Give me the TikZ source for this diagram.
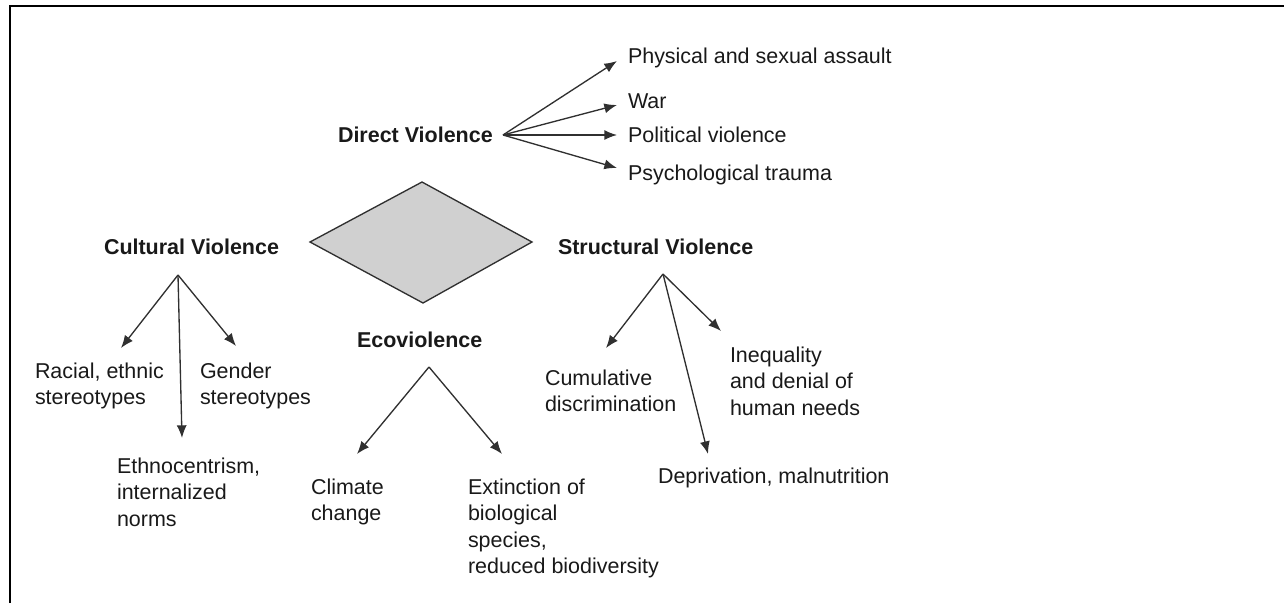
\documentclass[tikz,border=0pt]{standalone}
\usepackage{fontspec}
\setmainfont{Liberation Sans}
\usetikzlibrary{arrows.meta}
\definecolor{rhombgray}{HTML}{D0D0D0}
\definecolor{inkgray}{HTML}{303030}

\begin{document}
\begin{tikzpicture}[x=0.75pt, y=-0.75pt,
    every node/.style={inner sep=0pt, outer sep=0pt, text=black!90, font=\fontsize{16.1}{19.9}\selectfont},
    head/.style={anchor=base west, font=\fontsize{16.1}{19.9}\selectfont\bfseries},
    leaf/.style={anchor=base west},
    block/.style={anchor=north west, align=left},
    arr/.style={-{Latex[length=9.5pt, width=7.5pt]}, draw=inkgray, line width=1pt}]
  \useasboundingbox (0, 0) rectangle (1284, 603);
  \draw[line width=1.6pt] (10, 603) -- (10, 6) -- (1284, 6);

  \filldraw[fill=rhombgray, draw=inkgray, line width=1pt] (310, 242) -- (422, 182) -- (532, 242) -- (423, 303) -- cycle;

  \node[head] (direct) at (338, 142) {Direct Violence};
  \node[leaf] (phys) at (628, 63) {Physical and sexual assault};
  \node[leaf] (war) at (628, 108) {War};
  \node[leaf] (polit) at (628, 142) {Political violence};
  \node[leaf] (psych) at (628, 180) {Psychological trauma};

  \node[head] (cultural) at (104, 254) {Cultural Violence};
  \node[block] (racial) at (35, 362.5) {Racial, ethnic\\stereotypes};
  \node[block] (gender) at (200, 362.5) {Gender\\stereotypes};
  \node[block] (ethno) at (117, 457.5) {Ethnocentrism,\\internalized\\norms};

  \node[head] (eco) at (357, 347) {Ecoviolence};
  \node[block] (climate) at (311, 478.5) {Climate\\change};
  \node[block] (extinct) at (468, 478.5) {Extinction of\\biological\\species,\\reduced biodiversity};

  \node[head] (structural) at (558, 254) {Structural Violence};
  \node[block] (cumul) at (545, 369.5) {Cumulative\\discrimination};
  \node[block] (inequal) at (730, 346.5) {Inequality\\and denial of\\human needs};
  \node[leaf] (depriv) at (658, 483) {Deprivation, malnutrition};

  \coordinate (dhub) at (503, 135);
  \coordinate (dphys) at (617, 61);
  \coordinate (dwar) at (617, 105);
  \coordinate (dpolit) at (617, 135);
  \coordinate (dpsych) at (617, 168);
  \draw[arr] (dhub) -- (dphys);
  \draw[arr] (dhub) -- (dwar);
  \draw[arr] (dhub) -- (dpolit);
  \draw[arr] (dhub) -- (dpsych);

  \coordinate (chub) at (178, 275);
  \coordinate (cracial) at (121, 348);
  \coordinate (cgender) at (236, 346);
  \coordinate (cethno) at (182, 438);
  \draw[arr] (chub) -- (cracial);
  \draw[arr] (chub) -- (cgender);
  \draw[arr] (chub) -- (cethno);

  \coordinate (ehub) at (429, 367);
  \coordinate (eclimate) at (357, 454);
  \coordinate (eextinct) at (502, 454);
  \draw[arr] (ehub) -- (eclimate);
  \draw[arr] (ehub) -- (eextinct);

  \coordinate (shub) at (663, 274);
  \coordinate (scumul) at (606, 348);
  \coordinate (sinequal) at (721, 331);
  \coordinate (sdepriv) at (708, 454);
  \draw[arr] (shub) -- (scumul);
  \draw[arr] (shub) -- (sinequal);
  \draw[arr] (shub) -- (sdepriv);
\end{tikzpicture}
\end{document}
